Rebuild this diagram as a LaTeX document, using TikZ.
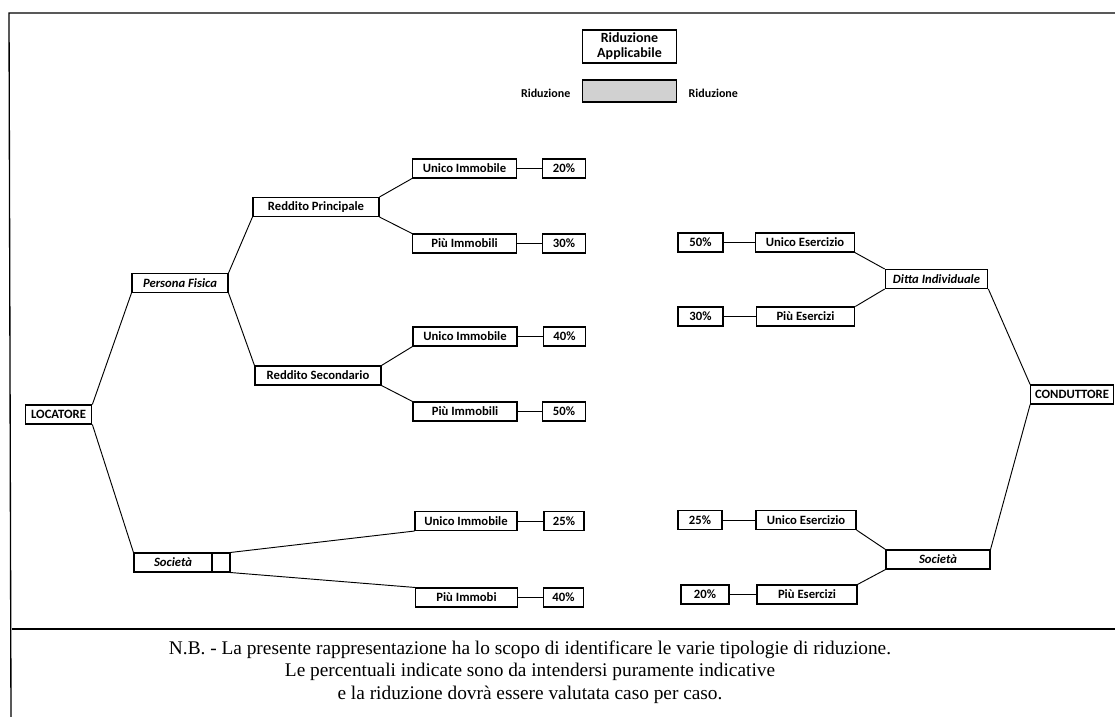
\documentclass[tikz,border=0pt]{standalone}
\usepackage{fontspec}
\setmainfont{Liberation Serif}
\newfontfamily\boxfont{Carlito}
\usetikzlibrary{positioning}

\begin{document}
\begin{tikzpicture}[x=0.75pt,y=-0.75pt,
  casella/.style={draw,line width=0.8pt,inner sep=0pt,minimum height=14.25pt,
    font=\boxfont\bfseries\fontsize{9.5}{10}\selectfont},
  corsivo/.style={casella,font=\boxfont\bfseries\itshape\fontsize{9.5}{10}\selectfont},
  perc/.style={casella,minimum width=32pt},
  figlio/.style={casella,minimum width=78pt},
  ramo/.style={line width=0.7pt}]
\useasboundingbox (0,0) rectangle (1115,717);
% cornice
\draw[line width=1pt] (1115,13) -- (9,13) -- (11,717);
\draw[line width=1pt] (12,629) -- (1115,629);
% legenda
\node[casella,minimum width=70pt,minimum height=24.75pt,align=center,
  font=\boxfont\bfseries\fontsize{10.5}{11}\selectfont] (leg) at (629.5,46.5) {Riduzione\\Applicabile};
\node[draw,line width=0.8pt,fill=black!18,minimum width=70pt,minimum height=16.5pt] (ombra) at (629.5,91) {};
\node[anchor=east,font=\boxfont\bfseries\fontsize{9}{10}\selectfont] (legsx) at (575,93) {Riduzione};
\node[anchor=west,font=\boxfont\bfseries\fontsize{9}{10}\selectfont] (legdx) at (684,93) {Riduzione};
% locatore
\node[casella,minimum width=50pt] (loc) at (58.5,414.5) {LOCATORE};
\node[corsivo,minimum width=72pt] (pf) at (180,283) {Persona Fisica};
\node[casella,minimum width=94.5pt] (rp) at (316,207) {Reddito Principale};
\node[casella,minimum width=94.5pt] (rs) at (318,375.5) {Reddito Secondario};
\node[corsivo,minimum width=58.5pt] (soc) at (173,562.5) {Società};
\node[casella,minimum width=13.5pt] (socx) at (221,562.5) {};
\node[figlio] (ui1) at (464.5,168.5) {Unico Immobile};
\node[perc] (p20) at (564,168.5) {20\%};
\node[figlio] (pi1) at (464.5,243.5) {Più Immobili};
\node[perc] (p30) at (564,243.5) {30\%};
\node[figlio] (ui2) at (465,336.5) {Unico Immobile};
\node[perc] (p40a) at (564.5,336.5) {40\%};
\node[figlio] (pi2) at (465,411.5) {Più Immobili};
\node[perc] (p50a) at (564,411.5) {50\%};
\node[figlio,minimum width=76.5pt] (ui3) at (466,521) {Unico Immobile};
\node[perc,minimum width=30pt] (p25a) at (564,521) {25\%};
\node[figlio,minimum width=76.5pt] (pi3) at (466.5,597.5) {Più Immobi};
\node[perc,minimum width=30pt] (p40b) at (563.5,597.5) {40\%};
\draw[ramo] (loc.north east) -- (pf.south west);
\draw[ramo] (loc.south east) -- (soc.north west);
\draw[ramo] (pf.north east) -- (rp.south west);
\draw[ramo] (pf.south east) -- (rs.north west);
\draw[ramo] (rp.north east) -- (ui1.south west);
\draw[ramo] (rp.south east) -- (pi1.north west);
\draw[ramo] (rs.north east) -- (ui2.south west);
\draw[ramo] (rs.south east) -- (pi2.north west);
\draw[ramo] (socx.north east) -- (ui3.south west);
\draw[ramo] (socx.south east) -- (pi3.north west);
\draw[ramo] (ui1) -- (p20);
\draw[ramo] (pi1) -- (p30);
\draw[ramo] (ui2) -- (p40a);
\draw[ramo] (pi2) -- (p50a);
\draw[ramo] (ui3) -- (p25a);
\draw[ramo] (pi3) -- (p40b);
% conduttore
\node[casella,minimum width=62pt] (cond) at (1072,394.5) {CONDUTTORE};
\node[corsivo,minimum width=77pt] (di) at (936.5,279) {Ditta Individuale};
\node[corsivo,minimum width=78pt] (soc2) at (938,559.5) {Società};
\node[casella,minimum width=74pt] (ue1) at (805,242.5) {Unico Esercizio};
\node[perc,minimum width=33.75pt] (p50b) at (700.5,242.5) {50\%};
\node[casella,minimum width=74pt] (pe1) at (805.5,316.5) {Più Esercizi};
\node[perc,minimum width=33.75pt] (p30b) at (700.5,316.5) {30\%};
\node[casella,minimum width=75pt] (ue2) at (806,520) {Unico Esercizio};
\node[perc,minimum width=33pt] (p25b) at (700,520) {25\%};
\node[casella,minimum width=75pt] (pe2) at (807,594.5) {Più Esercizi};
\node[perc,minimum width=36pt] (p20b) at (705,594.5) {20\%};
\draw[ramo] (ue1.south east) -- (di.north west);
\draw[ramo] (pe1.north east) -- (di.south west);
\draw[ramo] (di.south east) -- (cond.north west);
\draw[ramo] (soc2.north east) -- (cond.south west);
\draw[ramo] (ue2.south east) -- (soc2.north west);
\draw[ramo] (pe2.north east) -- (soc2.south west);
\draw[ramo,line width=1.2pt] (p50b) -- (ue1);
\draw[ramo,line width=1.2pt] (p30b) -- (pe1);
\draw[ramo] (p25b) -- (ue2);
\draw[ramo,line width=1.2pt] (p20b) -- (pe2);
% nota
\node[align=center,font=\fontsize{14.5}{17}\selectfont] (nota) at (530,672)
  {N.B. - La presente rappresentazione ha lo scopo di identificare le varie tipologie di riduzione.\\
   Le percentuali indicate sono da intendersi puramente indicative\\
   e la riduzione dovrà essere valutata caso per caso.};
\end{tikzpicture}
\end{document}
